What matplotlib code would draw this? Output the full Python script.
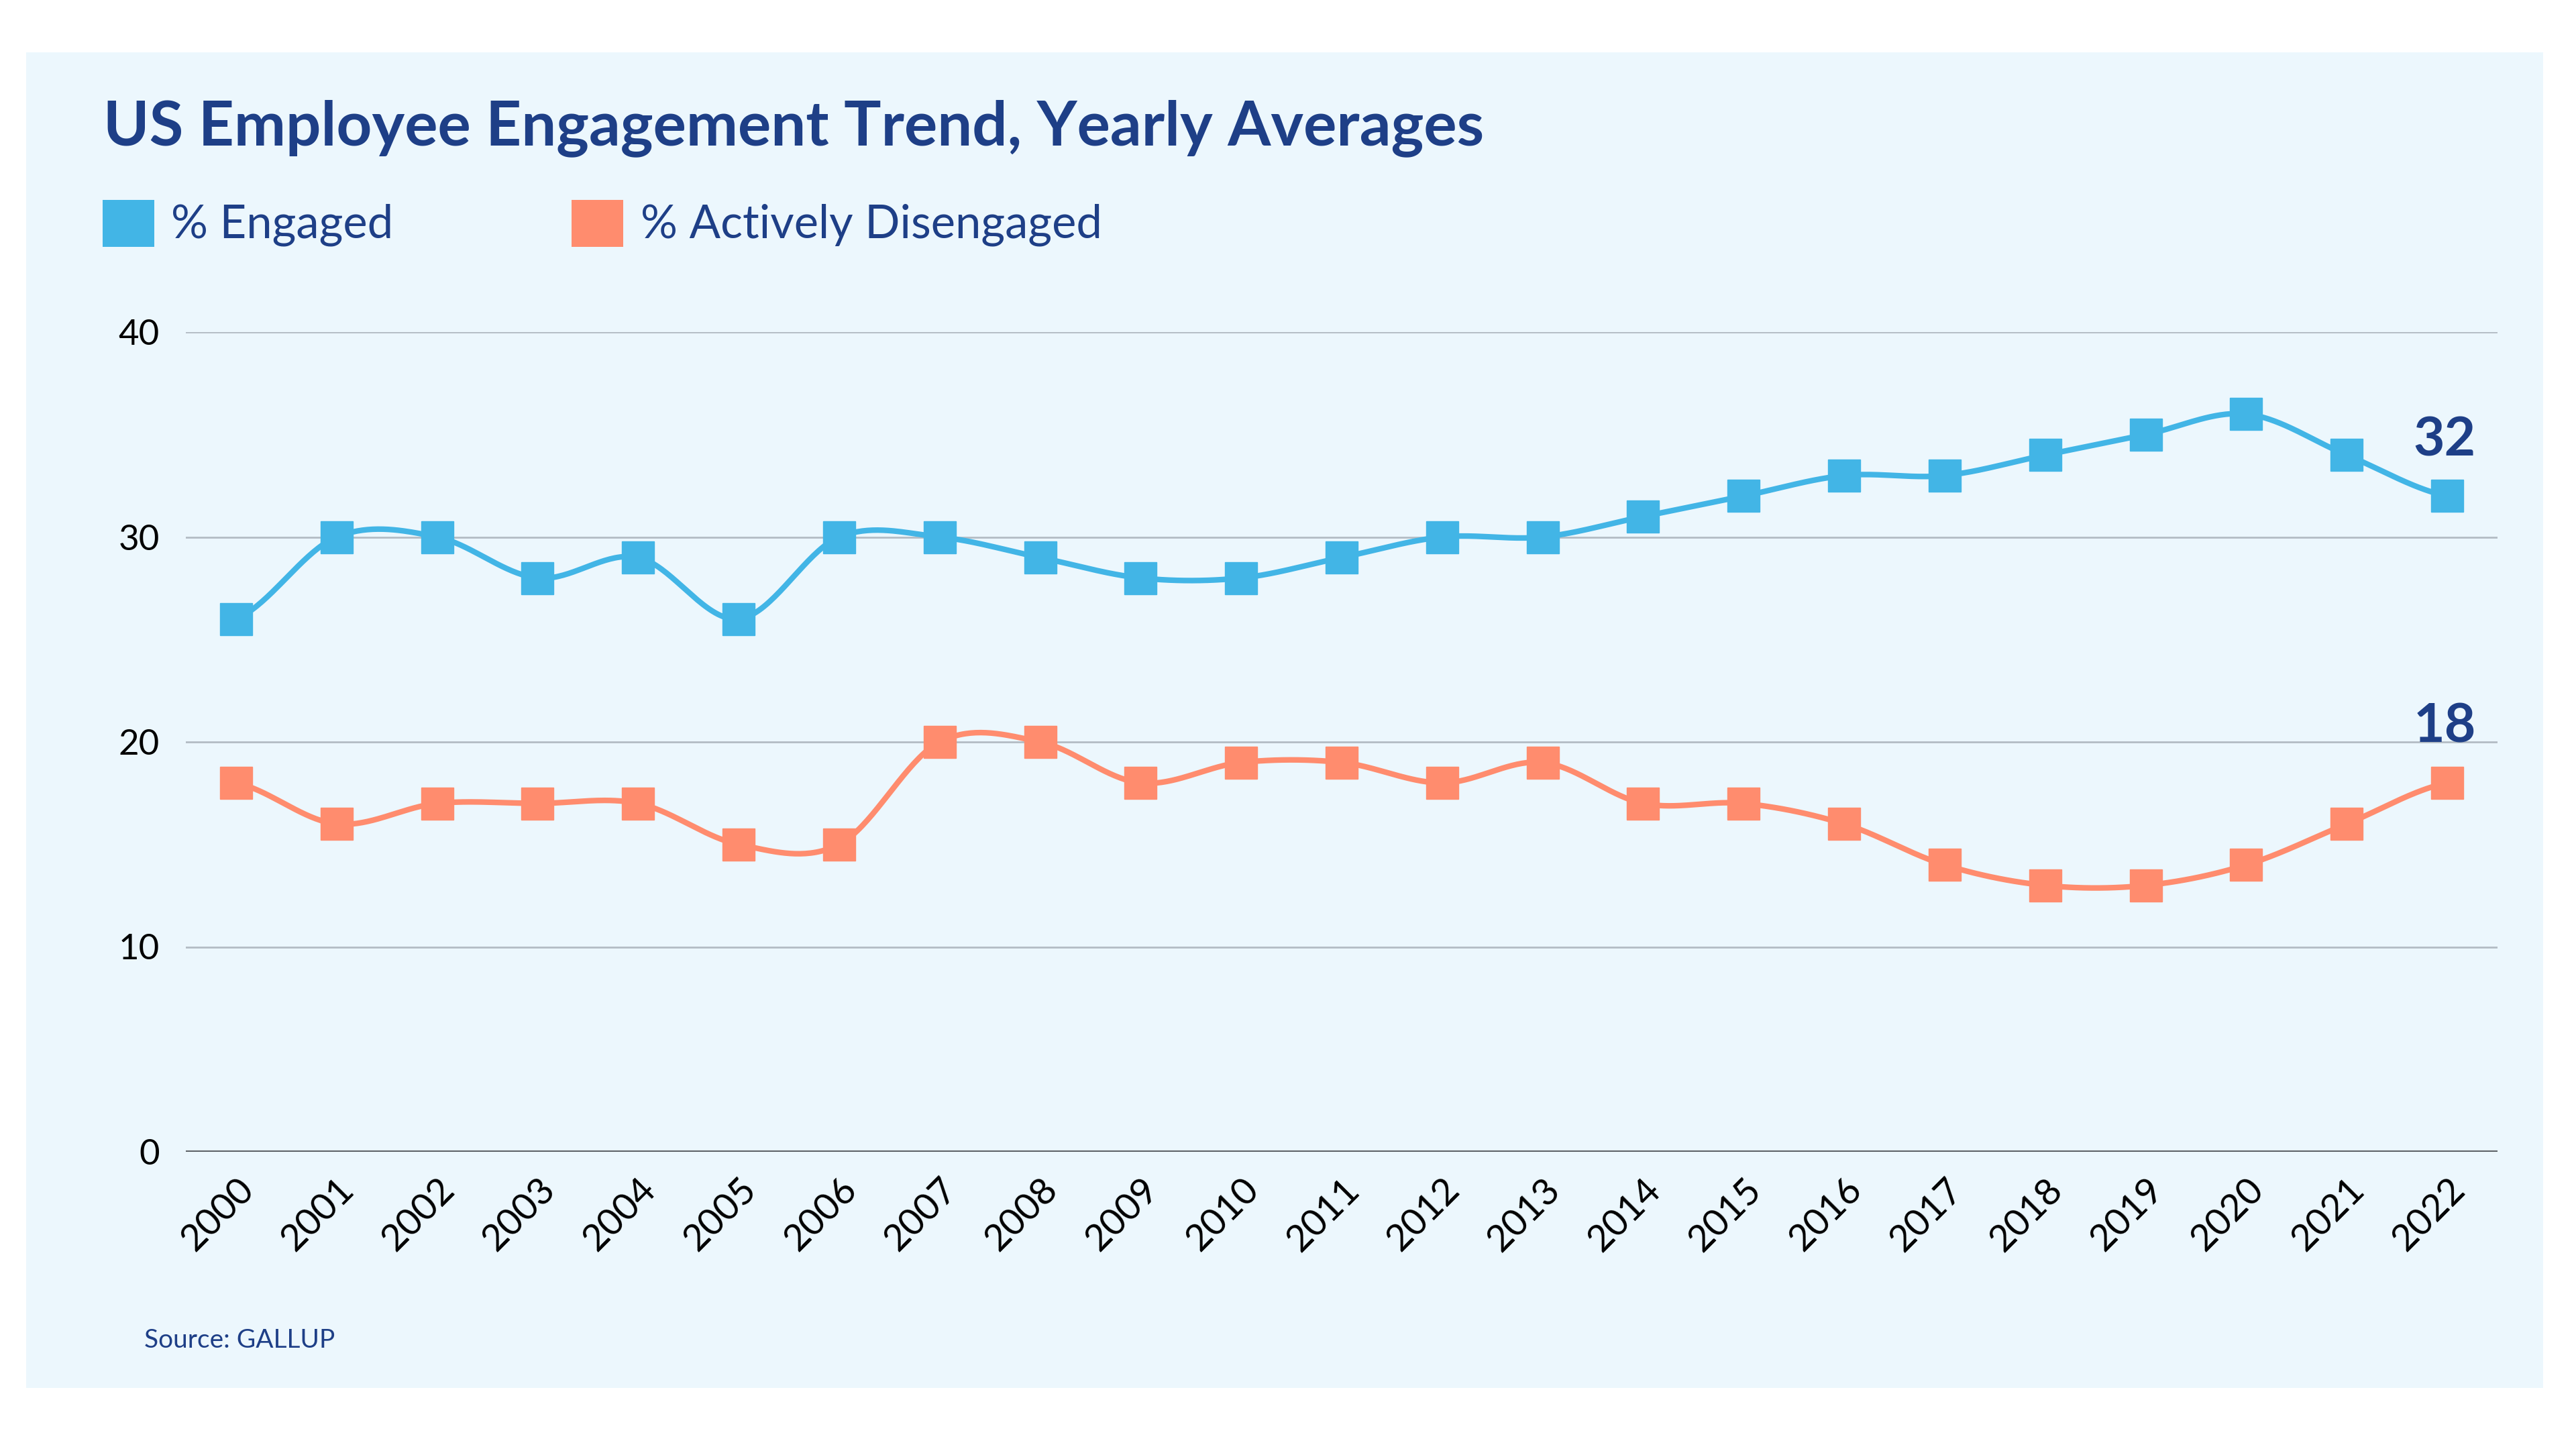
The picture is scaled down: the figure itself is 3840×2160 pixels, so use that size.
import numpy as np
import matplotlib
matplotlib.use("Agg")
import matplotlib.pyplot as plt
from matplotlib.patches import Rectangle
from matplotlib.transforms import ScaledTranslation

years = list(range(2000, 2023))
engaged = [26, 30, 30, 28, 29, 26, 30, 30, 29, 28, 28, 29, 30, 30, 31, 32, 33, 33, 34, 35, 36, 34, 32]
disengaged = [18, 16, 17, 17, 17, 15, 15, 20, 20, 18, 19, 19, 18, 19, 17, 17, 16, 14, 13, 13, 14, 16, 18]
series_names = ["% Engaged", "% Actively Disengaged"]
y_ticks = [0, 10, 20, 30, 40]

BLUE = "#42B5E6"
ORANGE = "#FF8C6E"
NAVY = "#1E3F87"
PANEL = "#ECF7FD"
W, H = 3840, 2160


def fx(px):
    return px / W


def fy(py):
    return 1 - py / H


def smooth(xs, ys, n=40):
    # cardinal (catmull-rom) curve through the points, for drawing only
    xs = np.asarray(xs, float)
    ys = np.asarray(ys, float)
    m = np.zeros_like(ys)
    m[1:-1] = (ys[2:] - ys[:-2]) / 2
    m[0] = (ys[1] - ys[0]) / 2
    m[-1] = (ys[-1] - ys[-2]) / 2
    out_x, out_y = [], []
    for i in range(len(xs) - 1):
        t = np.linspace(0, 1, n)
        h00 = 2 * t**3 - 3 * t**2 + 1
        h10 = t**3 - 2 * t**2 + t
        h01 = -2 * t**3 + 3 * t**2
        h11 = t**3 - t**2
        out_x.extend(xs[i] + t * (xs[i + 1] - xs[i]))
        out_y.extend(h00 * ys[i] + h10 * m[i] + h01 * ys[i + 1] + h11 * m[i + 1])
    return out_x, out_y


fig = plt.figure(figsize=(38.4, 21.6), dpi=100)
fig.patch.set_facecolor("white")
fig.patches.append(Rectangle((fx(39), fy(2069)), fx(3791) - fx(39), fy(78) - fy(2069),
                             transform=fig.transFigure, facecolor=PANEL, edgecolor="none", zorder=-5))

ax = fig.add_axes([fx(277), fy(1717), fx(3723) - fx(277), fy(495) - fy(1717)])
ax.set_facecolor("none")
ax.set_zorder(1)

idx = np.arange(len(years))
for vals, col in [(engaged, BLUE), (disengaged, ORANGE)]:
    sx, sy = smooth(idx, vals)
    ax.plot(sx, sy, color=col, lw=6, solid_capstyle="round", zorder=3)
    ax.plot(idx, vals, ls="none", marker="s", ms=34, color=col, mec=col, zorder=4)

ax.set_xlim(-0.5, len(years) - 0.5)
ax.set_ylim(0, 40)
ax.set_yticks(y_ticks)
ax.set_yticklabels([str(v) for v in y_ticks], fontsize=38, fontfamily="Lato")
ax.set_xticks(idx)
ax.set_xticklabels([str(y) for y in years], rotation=45, ha="right",
                   rotation_mode="anchor", fontsize=40, fontfamily="Lato")
off = ScaledTranslation(0.32, 0, fig.dpi_scale_trans)
for lab in ax.get_xticklabels():
    lab.set_transform(lab.get_transform() + off)
ax.tick_params(axis="both", length=0, colors="black")
ax.tick_params(axis="y", pad=28)
ax.tick_params(axis="x", pad=22)
for s in ax.spines.values():
    s.set_visible(False)
ax.grid(axis="y", color="#B3BCC4", lw=2)
ax.set_axisbelow(True)
ax.axhline(0, color="#5F6469", lw=3, zorder=2)

# end-point labels
ax.annotate(str(engaged[-1]), (idx[-1], engaged[-1]), xytext=(-3, 60), textcoords="offset points",
            ha="center", va="center", fontsize=58, fontweight="bold", color=NAVY, fontfamily="Lato")
ax.annotate(str(disengaged[-1]), (idx[-1], disengaged[-1]), xytext=(-3, 60), textcoords="offset points",
            ha="center", va="center", fontsize=58, fontweight="bold", color=NAVY, fontfamily="Lato")

fig.text(fx(154), fy(191), "US Employee Engagement Trend, Yearly Averages", fontsize=66.5,
         fontweight="bold", color=NAVY, va="center", ha="left", fontfamily="Lato")

# legend
for (x0, tx), name, col in zip([(153, 255), (852, 955)], series_names, [BLUE, ORANGE]):
    fig.patches.append(Rectangle((fx(x0), fy(368)), fx(77), 70 / H, transform=fig.transFigure,
                                 facecolor=col, edgecolor="none", zorder=2))
    fig.text(fx(tx), fy(335), name, fontsize=49.5, color=NAVY,
             va="center", ha="left", fontfamily="Lato")

fig.text(fx(215), fy(1998), "Source: GALLUP", fontsize=28, color=NAVY, va="center", ha="left",
         fontfamily="Lato")

fig.savefig("out.png", dpi=100)
